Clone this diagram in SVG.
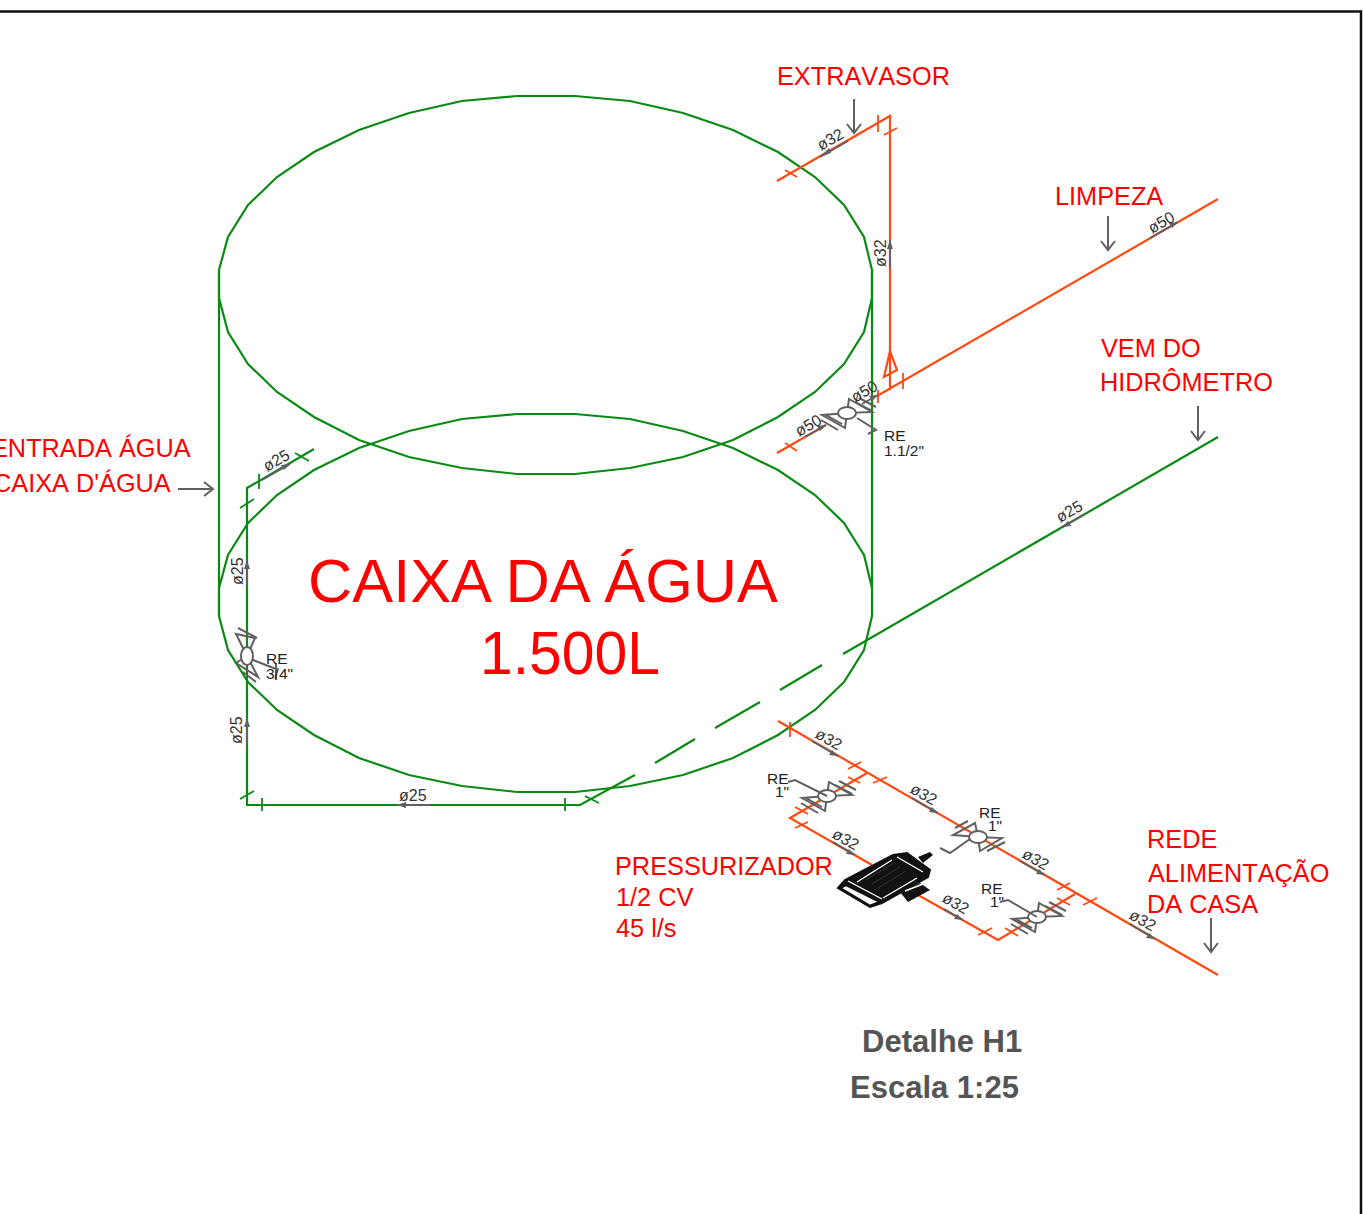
<svg xmlns="http://www.w3.org/2000/svg" width="1363" height="1214" viewBox="0 0 1363 1214">
<defs>
<style>
text{font-family:"Liberation Sans",Arial,sans-serif}
.g{fill:none;stroke:#0a8a14;stroke-width:2.2}
.o{fill:none;stroke:#ff4a12;stroke-width:2.2}
.v{fill:none;stroke:#606060;stroke-width:2}
.t{fill:none;stroke:#ff4a12;stroke-width:1.8}
.tg{fill:none;stroke:#0a8a14;stroke-width:1.8}
.l{fill:#ff0000;font-size:25.3px;font-kerning:none}
.d{fill:#333;font-size:16px}
.r{fill:#222;font-size:15.5px}
.h{fill:#555;font-size:31px;font-weight:bold}
.a{fill:#606060;stroke:none}
</style>
<g id="valve-sym">
<path class="v" d="M0 0L-25 2L-2 15ZM0 0L2 -14L25 -1ZM-26 7L-9 17M-21 2L-5 11M12 -15L29 -6M8 -11L25 -2"/>
<ellipse cx="0" cy="0" rx="9" ry="6" fill="#fff" stroke="#606060" stroke-width="2"/>
</g>
<g id="valve-sym2">
<path class="v" d="M0 0L-25 -2L-3 -14ZM0 0L2 14L24 1ZM-23 -9L-10 -16M9 14L27 5"/>
<ellipse cx="0" cy="0" rx="9" ry="6" fill="#fff" stroke="#606060" stroke-width="2"/>
</g>
</defs>
<rect width="1363" height="1214" fill="#fff"/>
<path d="M0 11.500H1361V1214" fill="none" stroke="#111" stroke-width="2.500"/>
<g id="caixa">
<polygon class="g" points="517,96 575,96 630,101 683,113 733,130 778,152 815,177 844,205 864,237 872,270 872,298 864,332 844,364 815,392 778,417 733,440 683,457 630,468 575,474 517,474 462,468 409,457 359,440 314,417 277,392 248,364 228,332 219,298 219,270 228,237 248,205 277,177 314,152 359,130 409,113 462,101"/>
<polygon class="g" points="517,414 575,414 630,419 683,431 733,448 778,470 815,495 844,523 864,555 872,588 872,616 864,650 844,682 815,710 778,735 733,758 683,775 630,786 575,792 517,792 462,786 409,775 359,758 314,735 277,710 248,682 228,650 219,616 219,588 228,555 248,523 277,495 314,470 359,448 409,431 462,419"/>
<path class="g" d="M219 270V616M872 270V590"/>
</g>
<g id="connectors">
<path class="g" d="M1218 437L843 654M822 665L780 690M760 702L715 728M695 739L655 763M635 775L580 805H247V488L314 449"/>
<path class="tg" d="M240 508L254 499M259 474V489M295 453L309 461M240 799L254 791M262 798V811M565 798V811M585 796L599 803"/>
<path class="o" d="M777 181L890 116V390M1218 199L877 396M777 453L826 425"/>
<path class="o" d="M884 377L890 351L897 370Z"/>
<path class="o" d="M778 721L1218 975M867 773L790 818L872 865M918 895L998 940L1075 894"/>
<path class="t" d="M785 170L797 177M878 115V132M884 135L897 128M903 373V389M878 390V403M785 443L797 451M790 722V737M848 769L861 762M848 777L860 783M873 783L887 777M795 807L808 814M795 828L808 822M978 935L992 928M1005 928L1018 936M1057 898L1070 905M1057 890L1070 883M1083 905L1097 898"/>
<g id="dim-arrows">
<path class="v" d="M848 141L820 157M890 268V240M1178 222L1150 238M878 395L862 404M805 437L826 425M1085 514L1062 527M290 464L262 480M247 585V560M247 745V718M431 805H397M812 741L838 756M912 798L938 813M1020 861L1045 875M1130 924L1155 939M833 842L855 855M944 909L963 920"/>
<path class="a" d="M820 157L829 148L831 153ZM890 240L893 249H887ZM1178 222L1169 223L1172 228ZM878 395L869 396L872 401ZM826 425L817 426L820 431ZM1062 527L1071 526L1068 521ZM290 464L281 465L284 470ZM247 560L250 569H244ZM247 718L250 727H244ZM397 805L406 802V808ZM838 756L829 755L832 750ZM938 813L929 812L932 807ZM1045 875L1036 874L1039 869ZM1155 939L1146 938L1149 933ZM855 855L846 854L849 849ZM963 920L954 919L957 914Z"/>
</g>
</g>
<g id="valve-1"><use href="#valve-sym" x="847" y="413"/><path class="v" d="M857 418L876 430L868 434"/><text class="r" x="884" y="441">RE</text><text class="r" x="884" y="456">1.1/2"</text></g>
<g id="valve-2"><use href="#valve-sym" x="827" y="796"/><path class="v" d="M827 796L795 780L788 782"/><text class="r" x="767" y="784">RE</text><text class="r" x="775" y="797">1"</text></g>
<g id="valve-3"><use href="#valve-sym2" x="978" y="837"/><path class="v" d="M970 839L950 853L940 848"/><text class="r" x="979" y="818">RE</text><text class="r" x="988" y="831">1"</text></g>
<g id="valve-4"><use href="#valve-sym" x="1037" y="917"/><path class="v" d="M1037 917L1008 900L1000 902"/><text class="r" x="981" y="894">RE</text><text class="r" x="990" y="907">1"</text></g>
<g id="valve-5">
<path class="v" d="M247 656L236 634L255 638ZM247 656L236 663L258 677ZM238 628L257 638M243 672L256 682M253 660L276 669M276 663V680"/>
<ellipse cx="247" cy="656" rx="6" ry="9" fill="#fff" stroke="#606060" stroke-width="2"/>
<text class="r" x="266" y="664">RE</text><text class="r" x="266" y="679">3/4"</text>
</g>
<g id="pressurizador">
<path d="M918 857L930 852L933 855L923 863Z" fill="#111"/>
<polygon points="838,888 845,880 893,855 907,853 930,870 928,877 882,903 870,907" fill="#111" stroke="#111" stroke-width="2"/>
<polygon points="840,888 846,885 880,902 870,906" fill="#fff" stroke="#111" stroke-width="2.500"/>
<polygon points="900,892 920,883 930,890 908,902" fill="#111"/>
<path d="M848 881L882 899M857 882L892 860M897 857L923 872M883 898L917 878M905 891L923 884" stroke="#fff" stroke-width="1.400" fill="none"/>
<path d="M866 880L894 863M872 884L900 867M878 888L906 871" stroke="#333" stroke-width="1" fill="none"/>
</g>
<g id="labels">
<text class="d" transform="translate(821 151) rotate(-30)">ø32</text>
<text class="d" transform="translate(886 267) rotate(-90)">ø32</text>
<text class="d" transform="translate(1152 234) rotate(-30)">ø50</text>
<text class="d" transform="translate(855 403) rotate(-30)">ø50</text>
<text class="d" transform="translate(799 437) rotate(-30)">ø50</text>
<text class="d" transform="translate(1060 523) rotate(-30)">ø25</text>
<text class="d" transform="translate(267 472) rotate(-30)">ø25</text>
<text class="d" transform="translate(243 585) rotate(-90)">ø25</text>
<text class="d" transform="translate(242 744) rotate(-90)">ø25</text>
<text class="d" x="399" y="801">ø25</text>
<text class="d" transform="translate(814 737) rotate(30)">ø32</text>
<text class="d" transform="translate(909 792) rotate(30)">ø32</text>
<text class="d" transform="translate(1021 857) rotate(30)">ø32</text>
<text class="d" transform="translate(1128 918) rotate(30)">ø32</text>
<text class="d" transform="translate(831 837) rotate(30)">ø32</text>
<text class="d" transform="translate(941 901) rotate(30)">ø32</text>
<text class="l" x="777" y="85">EXTRAVASOR</text>
<text class="l" x="1055" y="205">LIMPEZA</text>
<text class="l" x="1101" y="357">VEM DO</text>
<text class="l" x="1100" y="391">HIDRÔMETRO</text>
<text class="l" x="-9" y="457">ENTRADA ÁGUA</text>
<text class="l" x="-7" y="492">CAIXA D'ÁGUA</text>
<text class="l" x="1147" y="848">REDE</text>
<text class="l" x="1148" y="882">ALIMENTAÇÃO</text>
<text class="l" x="1147" y="913">DA CASA</text>
<text class="l" x="615" y="875">PRESSURIZADOR</text>
<text class="l" x="616" y="906">1/2 CV</text>
<text class="l" x="616" y="937">45 l/s</text>
<text fill="#f00" font-size="61" x="308" y="602" textLength="470" lengthAdjust="spacingAndGlyphs">CAIXA DA ÁGUA</text>
<text fill="#f00" font-size="61" x="480" y="674" textLength="180" lengthAdjust="spacingAndGlyphs">1.500L</text>
<text class="h" x="862" y="1052">Detalhe H1</text>
<text class="h" x="850" y="1098">Escala 1:25</text>
</g>
<g id="label-arrows">
<path class="v" d="M854 99V132M847 124L854 133L861 124M1108 216V249M1101 241L1108 250L1115 241M1198 406V439M1191 431L1198 440L1205 431M1211 918V951M1204 943L1211 952L1218 943M178 489H212M204 482L213 489L204 496"/>
</g>
</svg>
